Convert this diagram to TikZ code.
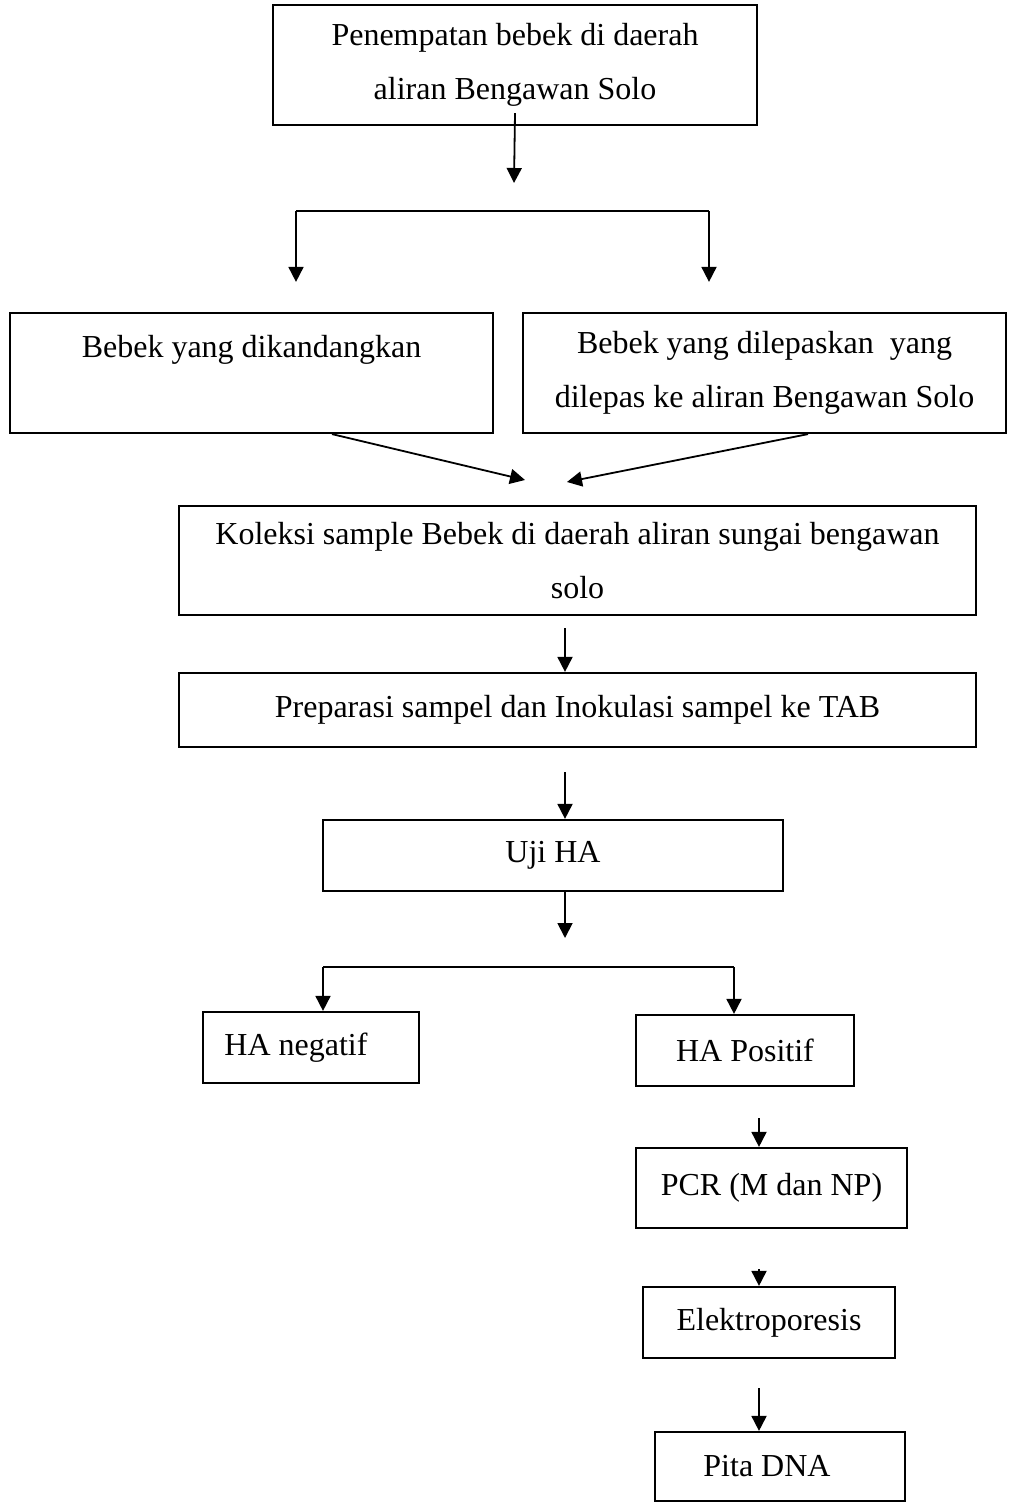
\documentclass[tikz,border=0pt]{standalone}
\usepackage{fontspec}
\setmainfont{Liberation Serif}
\usetikzlibrary{arrows.meta,positioning,calc}
\tikzset{
  flowbox/.style={draw, line width=1.1pt, inner sep=0pt, align=center, font=\fontsize{16}{27}\selectfont},
  flowarr/.style={-{Triangle[length=7.5pt,width=7.5pt]}, line width=0.9pt},
  flowline/.style={line width=0.9pt},
}

\begin{document}
\begin{tikzpicture}[x=0.5pt,y=-0.5pt]
\useasboundingbox (0,0) rectangle (1009,1503);
% boxes
\node[flowbox, minimum width=242pt, minimum height=60pt] (penempatan) at (515,65) {Penempatan bebek di daerah\\aliran Bengawan Solo};
\node[flowbox, minimum width=241.5pt, minimum height=60pt] (kandang) at (251.5,373) {Bebek yang dikandangkan\\~};
\node[flowbox, minimum width=241.5pt, minimum height=60pt] (lepas) at (764.5,373) {Bebek yang dilepaskan~ yang\\dilepas ke aliran Bengawan Solo};
\node[flowbox, minimum width=398.5pt, minimum height=54.5pt] (koleksi) at (577.5,560.5) {Koleksi sample Bebek di daerah aliran sungai bengawan\\solo};
\node[flowbox, minimum width=398.5pt, minimum height=37pt] (preparasi) at (577.5,710) {Preparasi sampel dan Inokulasi sampel ke TAB};
\node[flowbox, minimum width=230pt, minimum height=35.5pt] (ujiha) at (553,855.5) {Uji HA};
\node[flowbox, minimum width=108pt, minimum height=35.5pt] (hanegatif) at (311,1047.5) {HA negatif\hspace{15pt}};
\node[flowbox, minimum width=109pt, minimum height=35.5pt] (hapositif) at (745,1050.5) {HA Positif};
\node[flowbox, minimum width=135.5pt, minimum height=40pt] (pcr) at (771.5,1188) {PCR (M dan NP)};
\node[flowbox, minimum width=126pt, minimum height=35.5pt] (elektro) at (769,1322.5) {Elektroporesis};
\node[flowbox, minimum width=125pt, minimum height=34.5pt] (pita) at (780,1466.5) {Pita DNA\hspace{13pt}};

% free ends and columns
\coordinate (c1) at (514,183);
\coordinate (s1) at (296,211);
\coordinate (s2) at (709,211);
\coordinate (m1) at (525,480);
\coordinate (m2) at (567,482);
\coordinate (colA) at (565,0);
\coordinate (c2) at (565,938);
\coordinate (s3) at (323,967);
\coordinate (s4) at (734,967);
\coordinate (colB) at (759,0);

% connectors
\draw[flowarr] (penempatan.south) ++(0,-13) -- (c1);
\draw[flowline] (s1) -- (s2);
\draw[flowarr] (s1) -- ([yshift=15pt]s1 |- kandang.north);
\draw[flowarr] (s2) -- ([yshift=15pt]s2 |- lepas.north);
\draw[flowarr] ([xshift=40.25pt]kandang.south) -- (m1);
\draw[flowarr] ([xshift=21.75pt]lepas.south) -- (m2);
\draw[flowarr] (koleksi.south -| colA) ++(0,12) -- (preparasi.north -| colA);
\draw[flowarr] (preparasi.south -| colA) ++(0,24) -- (ujiha.north -| colA);
\draw[flowarr] (ujiha.south -| colA) -- (c2);
\draw[flowline] (s3) -- (s4);
\draw[flowarr] (s3) -- (s3 |- hanegatif.north);
\draw[flowarr] (s4) -- (s4 |- hapositif.north);
\draw[flowarr] (hapositif.south -| colB) ++(0,31) -- (pcr.north -| colB);
\draw[flowarr] (pcr.south -| colB) ++(0,40) -- (elektro.north -| colB);
\draw[flowarr] (elektro.south -| colB) ++(0,29) -- (pita.north -| colB);
\end{tikzpicture}
\end{document}
